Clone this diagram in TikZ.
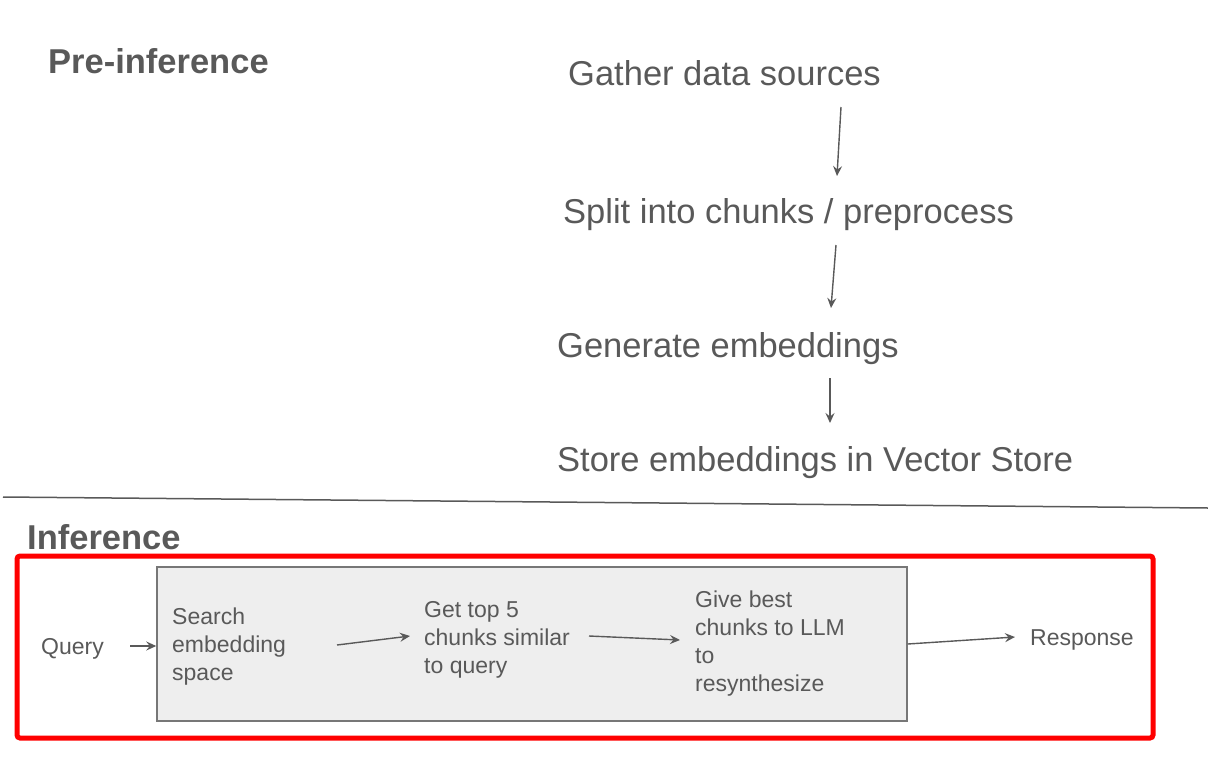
\documentclass[tikz,border=0pt]{standalone}
\usepackage{fontspec}
\setmainfont{Liberation Sans}
\usetikzlibrary{arrows.meta}
\definecolor{txt}{HTML}{595959}
\definecolor{boxfill}{HTML}{EEEEEE}
\definecolor{boxline}{HTML}{777777}
\definecolor{frame}{HTML}{FF0000}
\tikzset{
  big/.style={anchor=base west, inner sep=0, text=txt, font=\fontsize{34.5}{41}\selectfont},
  bigbold/.style={big, font=\fontsize{34.5}{41}\selectfont\bfseries},
  small/.style={anchor=base west, inner sep=0, text=txt, align=left, font=\fontsize{23}{28}\selectfont},
  arr/.style={draw=txt, line width=1.4, -{Stealth[length=10, width=9, inset=3.5]}},
}
\begin{document}
\begin{tikzpicture}[x=1pt, y=-1pt]
\useasboundingbox (0,0) rectangle (1208,761);
% titles
\node[bigbold] (pre) at (48,73) {Pre-inference};
\node[bigbold] (inf) at (27,549) {Inference};
% pre-inference steps
\node[big] (gather) at (568,85) {Gather data sources};
\node[big] (split) at (563,223) {Split into chunks / preprocess};
\node[big] (gen) at (557,357) {Generate embeddings};
\node[big] (store) at (557,471) {Store embeddings in Vector Store};
\coordinate (a1s) at (841,107);
\coordinate (a1e) at (837,176);
\coordinate (a2s) at (836,245);
\coordinate (a2e) at (831,308);
\coordinate (a3s) at (830,378);
\coordinate (a3e) at (830,423);
\draw[arr] (a1s) -- (a1e);
\draw[arr] (a2s) -- (a2e);
\draw[arr] (a3s) -- (a3e);
% divider
\coordinate (dl) at (3,497);
\coordinate (dr) at (1208,508);
\draw[draw=txt, line width=1.5] (dl) -- (dr);
% inference frame
\node[draw=frame, line width=5, rounded corners=3, minimum width=1136, minimum height=182, inner sep=0] (frm) at (585,647) {};
\node[draw=boxline, fill=boxfill, line width=1.5, minimum width=750, minimum height=154, inner sep=0] (proc) at (532,644) {};
\node[small] (query) at (41,654) {Query};
\node[small] (search) at (172,680) {Search\\embedding\\space};
\node[small] (top) at (424,673) {Get top 5\\chunks similar\\to query};
\node[small] (give) at (695,691) {Give best\\chunks to LLM\\to\\resynthesize};
\node[small] (resp) at (1030,645) {Response};
\coordinate (b1s) at (130,646);
\coordinate (b2s) at (337,645);
\coordinate (b2e) at (410,636);
\coordinate (b3s) at (589,636);
\coordinate (b3e) at (680,640);
\coordinate (b4e) at (1015,637);
\draw[arr] (b1s) -- (proc.west |- b1s);
\draw[arr] (b2s) -- (b2e);
\draw[arr] (b3s) -- (b3e);
\draw[arr] (proc.east) -- (b4e);
\end{tikzpicture}
\end{document}
